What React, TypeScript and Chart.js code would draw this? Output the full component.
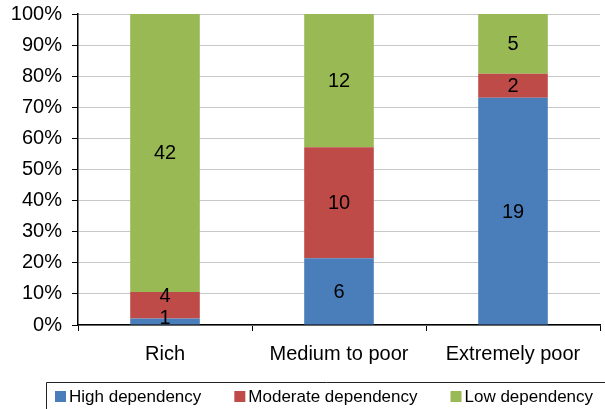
import React, { useEffect, useRef } from "react";
import { Chart, registerables } from "chart.js";

Chart.register(...registerables);

const categories = ["Rich", "Medium to poor", "Extremely poor"];
const seriesNames = ["High dependency", "Moderate dependency", "Low dependency"];
const highCounts = [1, 6, 19];
const moderateCounts = [4, 10, 2];
const lowCounts = [42, 12, 5];
const seriesColors = ["#4a7ebb", "#be4b48", "#98b954"];
const yTicks = [0, 10, 20, 30, 40, 50, 60, 70, 80, 90, 100];

const FONT = "'Liberation Sans', Arial, sans-serif";

const counts = [highCounts, moderateCounts, lowCounts];
const totals = categories.map((_, i) => counts.reduce((s, arr) => s + arr[i], 0));
const percents = counts.map((arr) => arr.map((v, i) => (v / totals[i]) * 100));

const dataLabelPlugin = {
  id: "stackLabels",
  afterDatasetsDraw(chart: any) {
    const ctx = chart.ctx;
    ctx.save();
    ctx.font = `20px ${FONT}`;
    ctx.fillStyle = "#000";
    ctx.textAlign = "center";
    ctx.textBaseline = "middle";
    const bottom = chart.chartArea.bottom;
    const n = chart.data.labels.length;
    for (let i = 0; i < n; i++) {
      let prevY = Infinity;
      chart.data.datasets.forEach((ds: any, d: number) => {
        const meta = chart.getDatasetMeta(d);
        const el = meta.data[i];
        if (!el) return;
        const center = (el.y + el.base) / 2;
        const y = Math.min(center, bottom - 8, prevY - 22);
        ctx.fillText(String(ds.counts[i]), el.x, y + 1);
        prevY = y;
      });
    }
    ctx.restore();
  },
};

const boxLegendPlugin = {
  id: "boxLegend",
  afterDraw(chart: any) {
    const ctx = chart.ctx;
    ctx.save();
    ctx.strokeStyle = "#222";
    ctx.lineWidth = 1;
    ctx.beginPath();
    ctx.moveTo(46.5, 420);
    ctx.lineTo(46.5, 382.5);
    ctx.lineTo(700, 382.5);
    ctx.stroke();
    ctx.font = `17px ${FONT}`;
    ctx.textBaseline = "middle";
    ctx.textAlign = "left";
    let x = 55;
    const cy = 396;
    chart.data.datasets.forEach((ds: any) => {
      ctx.fillStyle = ds.backgroundColor;
      ctx.fillRect(x, cy - 5, 11, 11);
      ctx.fillStyle = "#000";
      const tx = x + 14;
      ctx.fillText(ds.label, tx, cy + 1);
      x = tx + ctx.measureText(ds.label).width + 33;
    });
    ctx.restore();
  },
};

export default function App() {
  const ref = useRef<HTMLCanvasElement | null>(null);
  useEffect(() => {
    if (!ref.current) return;
    const chart = new Chart(ref.current, {
      type: "bar",
      data: {
        labels: categories,
        datasets: seriesNames.map((name, d) => ({
          label: name,
          data: percents[d],
          counts: counts[d],
          backgroundColor: seriesColors[d],
          borderWidth: 0,
          barPercentage: 0.4,
          categoryPercentage: 1,
        })) as any,
      },
      options: {
        responsive: false,
        animation: false,
        layout: { padding: { top: 14, right: 5, left: 0, bottom: 0 } },
        plugins: {
          legend: { display: false },
          tooltip: { enabled: false },
        },
        scales: {
          x: {
            stacked: true,
            afterFit(scale: any) {
              scale.height = 84;
              scale.paddingLeft = 0;
              scale.paddingRight = 0;
            },
            border: { color: "#000", width: 1.5 },
            grid: {
              display: true,
              drawOnChartArea: false,
              drawTicks: true,
              tickLength: 6,
              tickColor: "#000",
              offset: true,
            },
            ticks: {
              color: "#000",
              padding: 11,
              font: { family: FONT, size: 20 },
              maxRotation: 0,
            },
          },
          y: {
            stacked: true,
            min: 0,
            max: 100,
            afterFit(scale: any) {
              scale.width = 78;
              scale.paddingTop = 0;
              scale.paddingBottom = 0;
            },
            afterBuildTicks(scale: any) {
              scale.ticks = yTicks.map((v) => ({ value: v }));
            },
            border: { color: "#000", width: 1.5 },
            grid: {
              color: "#c8c8c8",
              tickColor: "#000",
              tickLength: 6,
              lineWidth: 1,
            },
            ticks: {
              color: "#000",
              padding: 10,
              font: { family: FONT, size: 20 },
              callback: (v: any) => `${v}%`,
            },
          },
        },
      },
      plugins: [dataLabelPlugin, boxLegendPlugin],
    });
    return () => chart.destroy();
  }, []);
  return (
    <div
      style={{
        position: "absolute",
        left: 0,
        top: 0,
        width: 605,
        height: 409,
        overflow: "hidden",
        background: "#fff",
      }}
    >
      <canvas ref={ref} width={605} height={409} />
    </div>
  );
}
